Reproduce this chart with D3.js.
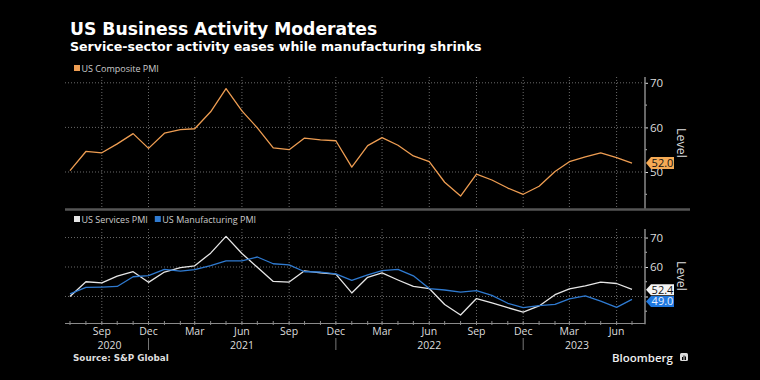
<!DOCTYPE html>
<html>
<head>
<meta charset="utf-8">
<script src="https://cdn.jsdelivr.net/npm/d3@7"></script>
<style>
  html, body { margin: 0; padding: 0; background: #000; }
  svg { display: block; }
</style>
</head>
<body>
<svg id="chart" width="760" height="380"></svg>
<script>
// ---- Data ----
const months = [
  "2020-07","2020-08","2020-09","2020-10","2020-11","2020-12",
  "2021-01","2021-02","2021-03","2021-04","2021-05","2021-06",
  "2021-07","2021-08","2021-09","2021-10","2021-11","2021-12",
  "2022-01","2022-02","2022-03","2022-04","2022-05","2022-06",
  "2022-07","2022-08","2022-09","2022-10","2022-11","2022-12",
  "2023-01","2023-02","2023-03","2023-04","2023-05","2023-06","2023-07"
];
const composite = [50.3,54.6,54.3,56.3,58.6,55.3,58.7,59.5,59.7,63.5,68.7,63.7,
  59.9,55.4,55.0,57.6,57.2,57.0,51.1,55.9,57.7,56.0,53.6,52.3,
  47.7,44.6,49.5,48.2,46.4,45.0,46.8,50.1,52.3,53.4,54.3,53.2,52.0];
const services = [50.0,55.0,54.6,56.9,58.4,54.8,58.3,59.8,60.4,64.7,70.4,64.6,
  59.9,55.1,54.9,58.7,58.0,57.6,51.2,56.5,58.0,55.6,53.4,52.7,
  47.3,43.7,49.3,47.8,46.2,44.7,46.8,50.6,52.6,53.6,54.9,54.4,52.4];
const manufacturing = [50.9,53.1,53.2,53.4,56.7,57.1,59.2,58.6,59.1,60.5,62.1,62.1,
  63.4,61.1,60.7,58.4,58.3,57.7,55.5,57.3,58.8,59.2,57.0,52.7,
  52.2,51.5,52.0,50.4,47.7,46.2,46.9,47.3,49.2,50.2,48.4,46.3,49.0];
const yTicksTop = [50, 60, 70];
const yTicksBottom = [60, 70];      // the 50 label is hidden behind the value tags
const yGrid = [50, 60, 70];
const yMinorTicks = [45, 55, 65];
const quarterMonths = [2, 5, 8, 11]; // Mar, Jun, Sep, Dec
const yearLabels = [["2020","2020-09-16"],["2021","2021-06-01"],["2022","2022-06-01"],["2023","2023-03-16"]];
const yearDividers = ["2020-12-01","2021-12-01","2022-12-01"];

const parse = d3.timeParse("%Y-%m");
const parseDay = d3.timeParse("%Y-%m-%d");
const dates = months.map(parse);

const svg = d3.select("#chart");
const W = 760, H = 380;
svg.append("rect").attr("width", W).attr("height", H).attr("fill", "#000");

const x = d3.scaleTime().domain([dates[0], dates[dates.length - 1]]).range([70, 632]);
const xLeft = 65, xRight = 645;

const colors = { composite: "#ee9d52", services: "#e6e6e6", manufacturing: "#2f7ad0" };
const font = "'Open Sans', 'DejaVu Sans', sans-serif";
const titleFont = "'DejaVu Sans', sans-serif";

// ---- Titles ----
svg.append("text").attr("x", 70).attr("y", 35).attr("fill", "#fff")
  .attr("font-family", titleFont).attr("font-weight", 700).attr("font-size", 17.2)
  .text("US Business Activity Moderates");
svg.append("text").attr("x", 70).attr("y", 50.5).attr("fill", "#fff")
  .attr("font-family", titleFont).attr("font-weight", 700).attr("font-size", 12.6)
  .text("Service-sector activity eases while manufacturing shrinks");

const allMonths = d3.timeMonth.range(dates[0], d3.timeMonth.offset(dates[dates.length - 1], 1));
const quarterTicks = allMonths.filter(d => quarterMonths.includes(d.getMonth()));

function panel(cfg) {
  const y = d3.scaleLinear().domain(cfg.domain).range([cfg.bottom, cfg.top]);
  const g = svg.append("g");

  // horizontal grid
  g.selectAll(".hg").data(yGrid).join("line")
    .attr("x1", xLeft).attr("x2", xRight)
    .attr("y1", d => y(d)).attr("y2", d => y(d))
    .attr("stroke", "#6a6a6a").attr("stroke-width", 1).attr("stroke-dasharray", "1,2");
  // vertical grid
  g.selectAll(".vg").data(quarterTicks).join("line")
    .attr("x1", d => x(d)).attr("x2", d => x(d))
    .attr("y1", cfg.top).attr("y2", cfg.bottom)
    .attr("stroke", "#6a6a6a").attr("stroke-width", 1).attr("stroke-dasharray", "1,2");

  // right axis
  const axis = g.append("g").attr("transform", `translate(${xRight},0)`)
    .call(d3.axisRight(y).tickValues(yGrid).tickSize(3).tickPadding(2)
      .tickFormat(d => cfg.tickLabels.includes(d) ? d3.format("d")(d) : ""));
  axis.select(".domain").remove();
  axis.selectAll("line").attr("stroke", "#ddd");
  axis.selectAll("text").attr("fill", "#ddd").attr("font-family", font).attr("font-size", 11.5);
  g.selectAll(".mt").data(yMinorTicks).join("line")
    .attr("x1", xRight).attr("x2", xRight + 2)
    .attr("y1", d => y(d)).attr("y2", d => y(d)).attr("stroke", "#bbb");
  g.append("line").attr("x1", xRight).attr("x2", xRight)
    .attr("y1", cfg.top).attr("y2", cfg.bottom + 1).attr("stroke", "#8a8a8a").attr("stroke-width", 1.5);

  // Level label
  g.append("text")
    .attr("transform", `translate(${677},${cfg.levelY}) rotate(90)`)
    .attr("text-anchor", "middle").attr("fill", "#ddd")
    .attr("font-family", font).attr("font-size", 12.5).text("Level");

  // lines
  cfg.series.forEach(s => {
    g.append("path").datum(s.values)
      .attr("fill", "none").attr("stroke", s.color).attr("stroke-width", 1.3)
      .attr("stroke-linejoin", "round")
      .attr("d", d3.line().x((d, i) => x(dates[i])).y(d => y(d)));
  });

  // legend
  let lx = 74;
  cfg.series.forEach(s => {
    g.append("rect").attr("x", lx).attr("y", cfg.legendY - 6.5).attr("width", 6).attr("height", 6).attr("fill", s.color);
    const t = g.append("text").attr("x", lx + 7.5).attr("y", cfg.legendY).attr("fill", "#ccc")
      .attr("font-family", font).attr("font-size", 9).text(s.name);
    lx += 7.5 + t.node().getComputedTextLength() + 7;
  });

  // value labels
  cfg.series.forEach(s => {
    const v = s.values[s.values.length - 1];
    const cy = y(v) + (s.labelShift || 0);
    const x0 = xRight + 1, h = s.labelH || 12, w = 28;
    g.append("path")
      .attr("d", `M${x0},${cy} L${x0 + 5},${cy - h / 2} L${x0 + w},${cy - h / 2} L${x0 + w},${cy + h / 2} L${x0 + 5},${cy + h / 2} Z`)
      .attr("fill", s.labelFill);
    g.append("text").attr("x", x0 + 5 + (w - 5) / 2).attr("y", cy + 4)
      .attr("text-anchor", "middle").attr("fill", s.labelText)
      .attr("font-family", font).attr("font-size", 11).text(d3.format(".1f")(v));
  });
  return y;
}

panel({
  domain: [41.7, 71.3], top: 77, bottom: 209, levelY: 143, legendY: 71.5, tickLabels: yTicksTop,
  series: [{ name: "US Composite PMI", values: composite, color: colors.composite, labelFill: "#f5aa55", labelText: "#111" }]
});

panel({
  domain: [40.9, 72.9], top: 229, bottom: 323.3, levelY: 276, legendY: 222.5, tickLabels: yTicksBottom,
  series: [
    { name: "US Services PMI", values: services, color: colors.services, labelFill: "#f4f4f4", labelText: "#111", labelShift: 0.3, labelH: 11 },
    { name: "US Manufacturing PMI", values: manufacturing, color: colors.manufacturing, labelFill: "#1f78e0", labelText: "#e8f0ff", labelShift: 2.0, labelH: 11 }
  ]
});

// panel separator (top panel baseline)
svg.append("line").attr("x1", xLeft).attr("x2", 690).attr("y1", 209.5).attr("y2", 209.5)
  .attr("stroke", "#555").attr("stroke-width", 2.5);

// bottom x axis
svg.append("line").attr("x1", xLeft).attr("x2", xRight).attr("y1", 323.5).attr("y2", 323.5)
  .attr("stroke", "#8a8a8a").attr("stroke-width", 1.2);
svg.selectAll(".mtick").data(allMonths).join("line")
  .attr("x1", d => x(d)).attr("x2", d => x(d)).attr("y1", 321).attr("y2", 325)
  .attr("stroke", "#8a8a8a");
svg.selectAll(".mlab").data(quarterTicks).join("text")
  .attr("x", d => x(d)).attr("y", 335).attr("text-anchor", "middle")
  .attr("fill", "#ddd").attr("font-family", font).attr("font-size", 10.5)
  .text(d3.timeFormat("%b"));
svg.selectAll(".ylab").data(yearLabels).join("text")
  .attr("x", d => x(parseDay(d[1]))).attr("y", 348.5).attr("text-anchor", "middle")
  .attr("fill", "#ddd").attr("font-family", font).attr("font-size", 10.5)
  .text(d => d[0]);
svg.selectAll(".ydiv").data(yearDividers).join("line")
  .attr("x1", d => x(parseDay(d))).attr("x2", d => x(parseDay(d)))
  .attr("y1", 338).attr("y2", 350).attr("stroke", "#777");

// source & logo
svg.append("text").attr("x", 73).attr("y", 361).attr("fill", "#ddd")
  .attr("font-family", titleFont).attr("font-weight", 700).attr("font-size", 8.8)
  .text("Source: S&P Global");
svg.append("text").attr("x", 612).attr("y", 361.5).attr("fill", "#eee")
  .attr("font-family", font).attr("font-weight", 600).attr("font-size", 11.5)
  .text("Bloomberg");
const lg = svg.append("g").attr("transform", "translate(680,353)");
lg.append("rect").attr("width", 8).attr("height", 8).attr("rx", 1.5).attr("fill", "#ddd");
[[2,4,1,3],[3.5,2.5,1,4.5],[5,3.5,1,3.5]].forEach(b => lg.append("rect").attr("x", b[0]).attr("y", b[1]).attr("width", b[2]).attr("height", b[3]).attr("fill", "#000"));
</script>
</body>
</html>
